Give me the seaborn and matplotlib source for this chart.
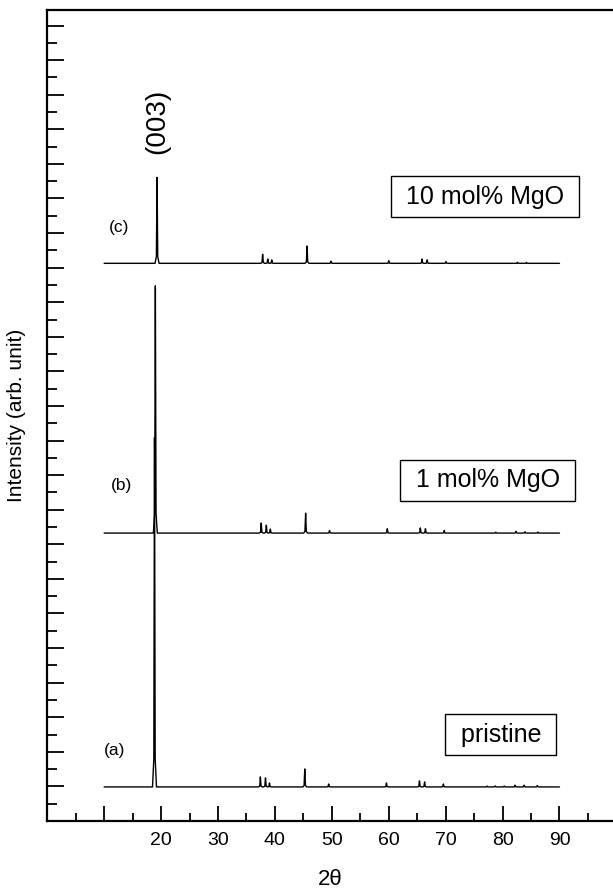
import matplotlib
matplotlib.use("Agg")
import matplotlib.pyplot as plt
import seaborn as sns
import pandas as pd

# scan range (degrees 2-theta)
scan_start = 10.0
scan_end = 90.0

# peak positions (2theta) and heights (arb. unit) for each sample
peaks_a_x = [18.85, 37.45, 38.35, 39.05, 45.25, 49.45, 59.6, 65.4, 66.3, 69.6, 77.3, 78.7, 80.3, 82.2, 83.8, 86.1]
peaks_a_h = [20.2, 0.58, 0.52, 0.23, 1.04, 0.17, 0.23, 0.35, 0.29, 0.17, 0.05, 0.06, 0.05, 0.10, 0.10, 0.08]

peaks_b_x = [19.0, 37.6, 38.5, 39.2, 45.4, 49.6, 59.75, 65.55, 66.45, 69.75, 78.8, 82.35, 83.95, 86.2]
peaks_b_h = [14.3, 0.58, 0.46, 0.23, 1.15, 0.15, 0.25, 0.30, 0.25, 0.15, 0.05, 0.10, 0.08, 0.06]

peaks_c_x = [19.3, 37.85, 38.75, 39.45, 45.65, 49.85, 60.0, 65.85, 66.75, 70.05, 82.6, 84.2]
peaks_c_h = [4.97, 0.52, 0.25, 0.20, 1.00, 0.12, 0.15, 0.25, 0.20, 0.10, 0.06, 0.05]

# baseline offsets of the stacked patterns
offsets = [1.97, 16.65, 32.25]
sample_tags = ["(a)", "(b)", "(c)"]
sample_names = ["pristine", "1 mol% MgO", "10 mol% MgO"]


def pattern_frame(px, ph, base):
    """Stick pattern drawn as narrow peaks on a flat baseline."""
    xs, ys = [scan_start], [base]
    for x, h in zip(px, ph):
        xs += [x - 0.35, x - 0.12, x, x + 0.12, x + 0.35]
        ys += [base, base + 0.08 * h, base + h, base + 0.08 * h, base]
    xs.append(scan_end)
    ys.append(base)
    return pd.DataFrame({"two_theta": xs, "intensity": ys})


sns.set_style("ticks")
plt.rcParams["font.family"] = ["Liberation Sans", "DejaVu Sans"]
plt.rcParams["text.color"] = "black"
plt.rcParams["axes.labelcolor"] = "black"
plt.rcParams["xtick.color"] = "black"
plt.rcParams["ytick.color"] = "black"

fig = plt.figure(figsize=(6.13, 8.92), dpi=100)
ax = fig.add_axes([0.077, 0.0796, 0.923, 0.9092])

series = [(peaks_a_x, peaks_a_h), (peaks_b_x, peaks_b_h), (peaks_c_x, peaks_c_h)]
for (px, ph), base in zip(series, offsets):
    df = pattern_frame(px, ph, base)
    sns.lineplot(data=df, x="two_theta", y="intensity", ax=ax, color="black",
                 linewidth=1.0, estimator=None, sort=False)

ax.set_xlim(0, 99.4)
ax.set_ylim(0, 46.9)

ax.set_xticks(range(10, 100, 10))
ax.set_xticklabels([""] + [str(v) for v in range(20, 100, 10)])
ax.set_xticks(range(5, 100, 10), minor=True)
ax.set_yticks(range(2, 47, 2))
ax.set_yticklabels([])
ax.set_yticks(range(1, 47, 2), minor=True)

ax.tick_params(axis="both", which="both", direction="in", width=1.3)
ax.tick_params(axis="x", which="major", length=11, labelsize=14, pad=8)
ax.tick_params(axis="x", which="minor", length=6)
ax.tick_params(axis="y", which="major", length=12)
ax.tick_params(axis="y", which="minor", length=7)

for side in ["left", "bottom", "top"]:
    ax.spines[side].set_linewidth(1.6)
    ax.spines[side].set_color("black")
ax.spines["right"].set_visible(False)

ax.set_xlabel("2\u03b8", fontsize=16, labelpad=14)
ax.set_ylabel("Intensity (arb. unit)", fontsize=15, labelpad=12)

# sample tags and boxed names
tag_pos = [(11.8, 4.05), (13.0, 19.4), (12.7, 34.3)]
box_pos = [(79.7, 5.0), (77.4, 19.7), (76.9, 36.1)]
for tag, (tx, ty), name, (bx, by) in zip(sample_tags, tag_pos, sample_names, box_pos):
    ax.text(tx, ty, tag, fontsize=12.5, ha="center", va="center")
    ax.text(bx, by, " " + name + " ", fontsize=18, ha="center", va="center",
            bbox=dict(boxstyle="square,pad=0.33", facecolor="white",
                      edgecolor="black", linewidth=1.0))

ax.text(19.4, 38.6, "(003)", fontsize=20, rotation=90, ha="center", va="bottom")

fig.savefig("out.png", dpi=100)
